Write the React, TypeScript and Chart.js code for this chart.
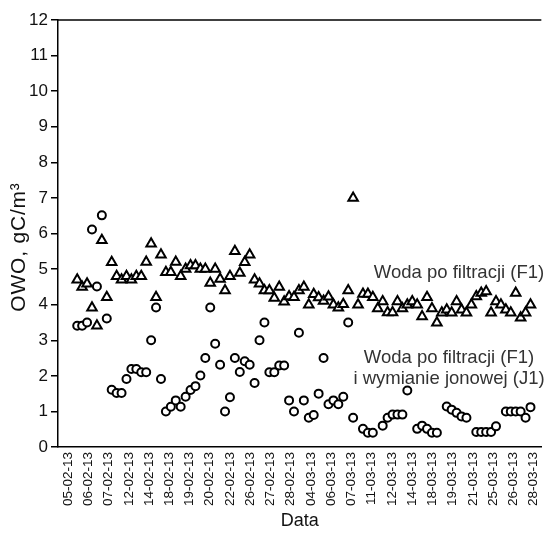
import { useEffect, useRef } from "react";
import { Chart, registerables } from "chart.js";

Chart.register(...registerables);

// X-axis date labels (shown at regular intervals along the measurement index)
const dateLabels = [
  "05-02-13", "06-02-13", "07-02-13", "12-02-13", "14-02-13", "18-02-13",
  "19-02-13", "20-02-13", "22-02-13", "26-02-13", "27-02-13", "28-02-13",
  "04-03-13", "06-03-13", "07-03-13", "11-03-13", "12-03-13", "14-03-13",
  "18-03-13", "19-03-13", "21-03-13", "25-03-13", "26-03-13", "28-03-13",
];

// Series 1: Woda po filtracji (F1) – triangles
const f1Values: (number | null)[] = [
  4.70, 4.50, 4.59, 3.91, 3.41, 5.81, 4.21, 5.19, 4.80, 4.70,
  4.80, 4.70, 4.80, 4.80, 5.20, 5.71, 4.21, 5.40, 4.91, 4.91,
  5.20, 4.80, 5.00, 5.10, 5.10, 5.00, 5.00, 4.61, 5.00, 4.72,
  4.40, 4.80, 5.50, 4.89, 5.19, 5.40, 4.70, 4.59, 4.40, 4.40,
  4.19, 4.50, 4.08, 4.23, 4.21, 4.40, 4.50, 4.00, 4.29, 4.20,
  4.10, 4.22, 4.00, 3.91, 4.01, 4.40, 7.00, 4.00, 4.30, 4.30,
  4.21, 3.89, 4.09, 3.78, 3.78, 4.09, 3.89, 4.00, 4.09, 4.00,
  3.67, 4.21, 3.89, 3.49, 3.77, 3.86, 3.77, 4.09, 3.86, 3.77,
  4.00, 4.23, 4.33, 4.37, 3.77, 4.09, 4.00, 3.86, 3.77, 4.33,
  3.63, 3.77, 4.00,
];

// Series 2: Woda po filtracji (F1) i wymianie jonowej (J1) – circles
const j1Values: (number | null)[] = [
  3.41, 3.41, 3.50, 6.11, 4.51, 6.51, 3.61, 1.61, 1.52, 1.52,
  1.91, 2.19, 2.19, 2.10, 2.10, 3.00, 3.92, 1.91, 1.00, 1.13,
  1.31, 1.13, 1.41, 1.60, 1.71, 2.01, 2.50, 3.92, 2.90, 2.31,
  1.00, 1.40, 2.50, 2.11, 2.41, 2.31, 1.80, 3.00, 3.50, 2.10,
  2.10, 2.29, 2.29, 1.31, 1.00, 3.21, 1.31, 0.82, 0.90, 1.50,
  2.50, 1.20, 1.31, 1.20, 1.41, 3.50, 0.82, null, 0.51, 0.40,
  0.40, null, 0.60, 0.82, 0.91, 0.91, 0.91, 1.59, null, 0.51,
  0.60, 0.51, 0.40, 0.40, null, 1.14, 1.05, 0.96, 0.86, 0.82,
  null, 0.42, 0.42, 0.42, 0.42, 0.58, null, 1.00, 1.00, 1.00,
  1.00, 0.82, 1.12,
];

const yTicks = [0, 1, 2, 3, 4, 5, 6, 7, 8, 9, 10, 11, 12];

const FONT = "'Liberation Sans', Arial, sans-serif";

const toPoints = (vals: (number | null)[]) =>
  vals
    .map((v, i) => (v == null ? null : { x: i, y: v }))
    .filter((p) => p !== null) as { x: number; y: number }[];

const labelStart = -1.86;
const labelStep = 4.109;

const textPlugin = {
  id: "textPlugin",
  afterDraw(chart: any) {
    const { ctx, chartArea } = chart;
    ctx.save();
    // top frame line
    ctx.strokeStyle = "#000";
    ctx.lineWidth = 1.5;
    ctx.beginPath();
    ctx.moveTo(chartArea.left - 0.75, chartArea.top);
    ctx.lineTo(chartArea.right, chartArea.top);
    ctx.stroke();

    // y axis title
    ctx.fillStyle = "#111";
    ctx.font = `21px ${FONT}`;
    ctx.textAlign = "center";
    ctx.textBaseline = "middle";
    ctx.save();
    (ctx as any).letterSpacing = "0.8px";
    ctx.translate(19, 247);
    ctx.rotate(-Math.PI / 2);
    ctx.fillText("OWO, gC/m³", 0, 0);
    ctx.restore();

    // x axis title
    ctx.font = `18px ${FONT}`;
    ctx.fillText("Data", (chartArea.left + chartArea.right) / 2, 521);

    // annotations
    ctx.fillStyle = "#333";
    ctx.font = `18.5px ${FONT}`;
    ctx.textBaseline = "alphabetic";
    ctx.textAlign = "center";
    ctx.fillText("Woda po filtracji (F1)", 459, 277.5);
    ctx.fillText("Woda po filtracji (F1)", 449, 362.5);
    ctx.fillText("i wymianie jonowej (J1)", 449, 383.5);
    ctx.restore();
  },
};

export default function App() {
  const canvasRef = useRef<HTMLCanvasElement | null>(null);

  useEffect(() => {
    if (!canvasRef.current) return;
    const chart = new Chart(canvasRef.current, {
      type: "scatter",
      data: {
        datasets: [
          {
            label: "Woda po filtracji (F1) i wymianie jonowej (J1)",
            data: toPoints(j1Values),
            pointStyle: "circle",
            pointRadius: 4,
            borderWidth: 2,
            borderColor: "#000",
            backgroundColor: "#fff",
          },
          {
            label: "Woda po filtracji (F1)",
            data: toPoints(f1Values),
            pointStyle: "triangle",
            pointRadius: 5.5,
            borderWidth: 2,
            borderColor: "#000",
            backgroundColor: "#fff",
          },
        ],
      },
      options: {
        animation: false,
        responsive: false,
        layout: { padding: { top: 20, right: 2, left: 0, bottom: 0 } },
        plugins: {
          legend: { display: false },
          tooltip: { enabled: false },
        },
        scales: {
          x: {
            type: "linear",
            min: -3.9,
            max: 94.2,
            grid: { display: false, drawTicks: false },
            border: { display: true, color: "#000", width: 1.5 },
            afterBuildTicks: (axis: any) => {
              axis.ticks = dateLabels.map((_, i) => ({ value: labelStart + i * labelStep }));
            },
            afterFit: (scale: any) => {
              scale.height = 87;
            },
            ticks: {
              autoSkip: false,
              minRotation: 90,
              maxRotation: 90,
              padding: 5,
              color: "#111",
              font: { family: FONT, size: 13.5 },
              callback: (_v: any, i: number) => dateLabels[i],
            },
          },
          y: {
            type: "linear",
            min: 0,
            max: 12,
            grid: {
              display: true,
              drawOnChartArea: false,
              drawTicks: true,
              tickLength: 7,
              color: "#000",
              lineWidth: 1.5,
            },
            border: { display: true, color: "#000", width: 1.5 },
            afterBuildTicks: (axis: any) => {
              axis.ticks = yTicks.map((v) => ({ value: v }));
            },
            afterFit: (scale: any) => {
              scale.width = 58;
            },
            ticks: {
              padding: 3,
              color: "#111",
              font: { family: FONT, size: 17 },
              callback: (v: any) => String(v),
            },
          },
        },
      },
      plugins: [textPlugin],
    } as any);
    return () => chart.destroy();
  }, []);

  return (
    <div style={{ position: "fixed", left: 0, top: 0, width: 555, height: 534, background: "#fff" }}>
      <canvas ref={canvasRef} width={555} height={534} />
    </div>
  );
}
